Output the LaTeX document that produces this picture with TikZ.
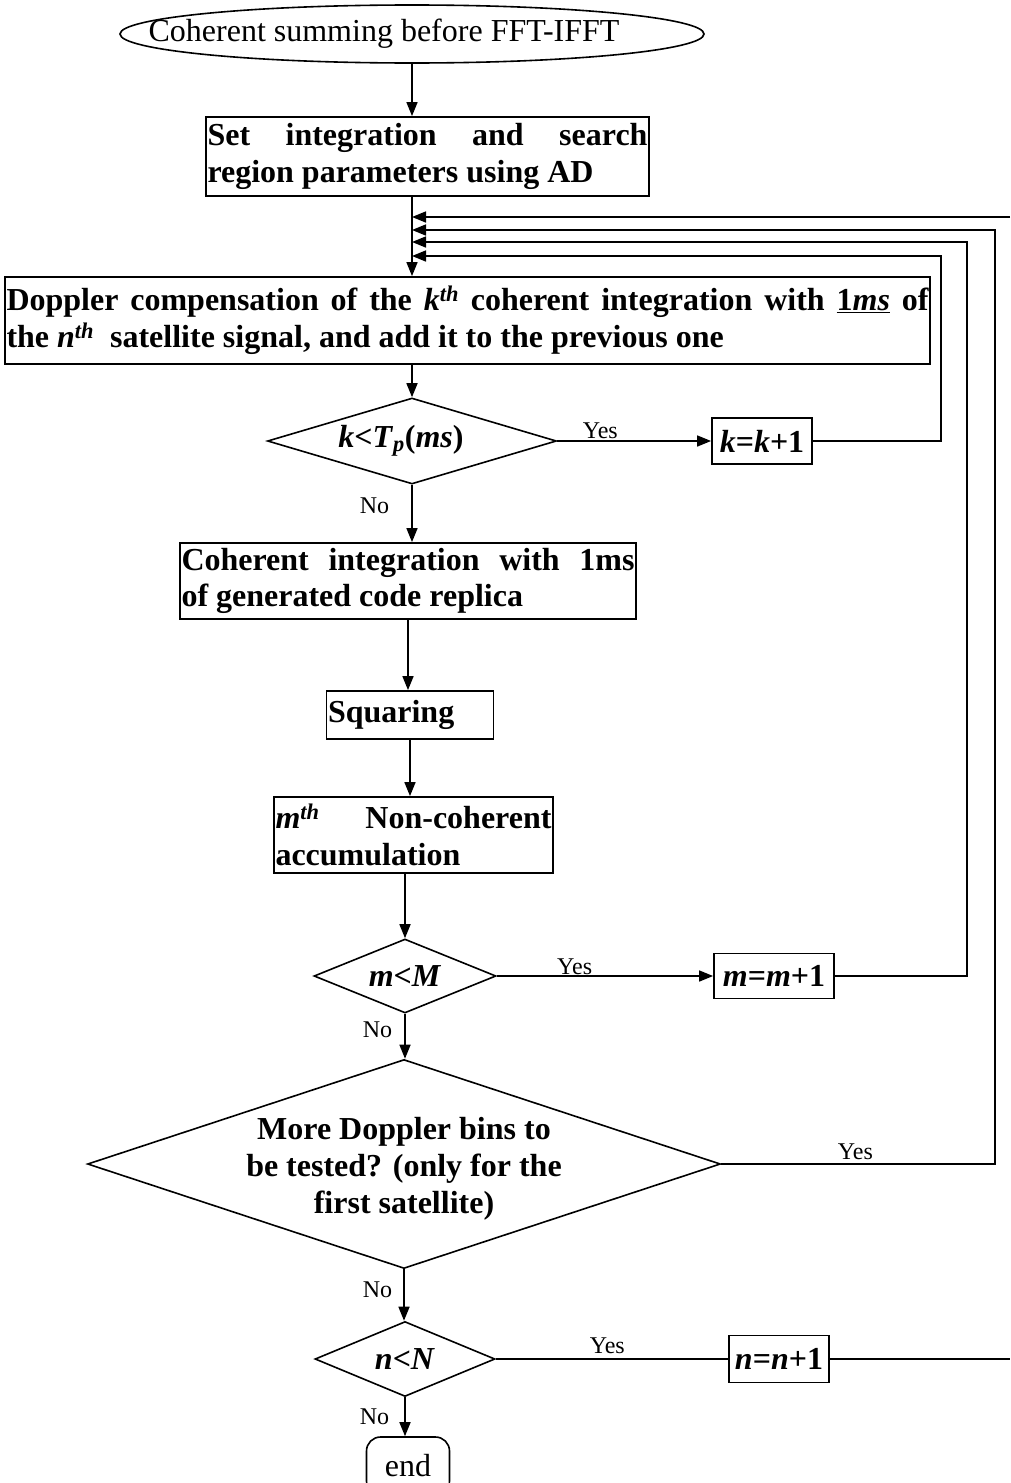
\documentclass[tikz,border=0pt]{standalone}
\usepackage{fontspec}
\setmainfont{Liberation Serif}
\usetikzlibrary{shapes.geometric,arrows.meta}
\tolerance=10000 \hyphenpenalty=10000 \exhyphenpenalty=10000
\newcommand\bigf{\fontsize{32}{36.8}\selectfont}
\newcommand\lblf{\fontsize{24}{27.6}\selectfont}
\newcommand\thsup{\textsuperscript{\textit{th}}}
\begin{document}
\begin{tikzpicture}[x=1pt,y=-1pt,
  conn/.style={line width=1.6pt},
  arr/.style={conn,-{Triangle[length=14pt,width=11pt]}},
  pbox/.style={draw,rectangle,line width=1.8pt,inner xsep=1.5pt,inner ysep=0pt,font=\bigf\bfseries,align=center},
  jbox/.style={pbox,align=justify},
  dec/.style={draw,diamond,line width=1.6pt,inner sep=0pt,font=\bigf\bfseries},
  lbl/.style={font=\lblf,inner sep=0pt},
]
\useasboundingbox (0,0) rectangle (1010,1483);

% nodes
\node[draw,ellipse,line width=1.6pt,minimum width=584pt,minimum height=58pt,inner sep=0pt,font=\bigf] (start) at (412,34) {\makebox[0pt]{Coherent summing before FFT-IFFT\hspace*{56pt}}};
\node[jbox,text width=440pt,minimum height=79pt] (set) at (427.5,156.5) {Set integration and search\linebreak region parameters using AD};
\node[jbox,text width=922pt,minimum height=87pt] (dop) at (467.5,320.5) {Doppler compensation of the \textit{k}\thsup{} coherent integration with \underline{1\textit{ms}} of\linebreak the \textit{n}\thsup\ \ satellite signal, and add it to the previous one};
\node[dec,aspect=3.36,minimum width=289pt,minimum height=86pt] (dk) at (412,441) {\makebox[0pt]{\textit{k}<\textit{T}\textsubscript{\textit{p}}(\textit{ms})\hspace*{22pt}}};
\node[pbox,minimum width=100pt,minimum height=46pt,inner xsep=0pt] (kinc) at (762,441) {\textit{k}=\textit{k}+1};
\node[jbox,text width=453pt,minimum height=76pt] (coh) at (408,581) {Coherent integration with 1ms\linebreak of generated code replica};
\node[pbox,text width=164pt,minimum height=48pt,align=left] (sq) at (410,715) {Squaring};
\node[jbox,text width=276pt,minimum height=76pt] (acc) at (413.5,835) {\textit{m}\thsup{} Non-coherent\linebreak accumulation};
\node[dec,aspect=2.46,minimum width=182pt,minimum height=74pt] (dm) at (405,976) {\textit{m}<\textit{M}};
\node[pbox,minimum width=120pt,minimum height=45pt,inner xsep=0pt] (minc) at (774,976) {\textit{m}=\textit{m}+1};
\node[dec,aspect=3.03,minimum width=633pt,minimum height=209pt,
  label={[name=bigtxt,font=\bigf\bfseries,align=center,yshift=-5pt]center:{More Doppler bins to\\be tested? (only for the\\first satellite)}}] (big) at (404,1164) {};
\node[dec,aspect=2.4,minimum width=180pt,minimum height=75pt] (dn) at (405,1359) {\textit{n}<\textit{N}};
\node[pbox,minimum width=100pt,minimum height=47pt,inner xsep=0pt] (ninc) at (779,1359) {\textit{n}=\textit{n}+1};
\node[draw,line width=1.6pt,rounded corners=14pt,minimum width=83pt,minimum height=58pt,inner sep=0pt,font=\bigf] (end) at (408,1466) {end};

% feedback coordinates
\coordinate (tedge) at (1010,217);
\coordinate (j1) at (412,217);
\coordinate (j2) at (412,230);
\coordinate (j3) at (412,242);
\coordinate (j4) at (412,256);
\coordinate (r2) at (995,230);
\coordinate (r3) at (967,242);
\coordinate (r4) at (941,256);
\coordinate (nedge) at (1010,1359);

% connectors
\draw[arr] (start.south) -- (start.south |- set.north);
\draw[arr] (start.south |- set.south) -- (start.south |- dop.north);
\draw[arr] (tedge) -- (j1);
\draw[arr] (big.east) -| node[lbl,anchor=base,yshift=5pt,pos=.245]{Yes} (r2) -- (j2);
\draw[arr] (minc.east) -| (r3) -- (j3);
\draw[arr] (kinc.east) -| (r4) -- (j4);

\draw[arr] (start.south |- dop.south) -- (start.south |- dk.north);
\draw[arr] (dk.east) -- node[lbl,anchor=base,yshift=3pt,pos=.28]{Yes} (kinc.west);
\draw[arr] (dk.south) -- node[lbl,anchor=east,xshift=-22pt,pos=.37]{No} (dk.south |- coh.north);
\draw[arr] (coh.south) -- (coh.south |- sq.north);
\draw[arr] (sq.south) -- (sq.south |- acc.north);
\draw[arr] (dm.north |- acc.south) -- (dm.north);
\draw[arr] (dm.east) -- node[lbl,anchor=base,yshift=2pt,pos=.36]{Yes} (minc.west);
\draw[arr] (dm.south) -- node[lbl,anchor=east,xshift=-12pt,pos=.36]{No} (dm.south |- big.north);
\draw[arr] (big.south) -- node[lbl,anchor=east,xshift=-11pt,pos=.4]{No} (big.south |- dn.north);
\draw[conn] (dn.east) -- node[lbl,anchor=base,yshift=6pt,pos=.48]{Yes} (ninc.west);
\draw[conn] (ninc.east) -- (nedge);
\draw[arr] (dn.south) -- node[lbl,anchor=east,xshift=-15pt,pos=.5]{No} (dn.south |- end.north);
\end{tikzpicture}
\end{document}
